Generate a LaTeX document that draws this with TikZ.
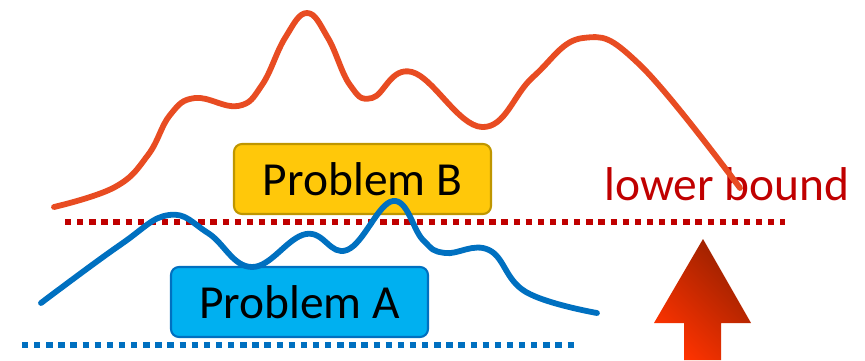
\documentclass[tikz,border=0pt]{standalone}
\usepackage{fontspec}
\setmainfont{Carlito}
\definecolor{curveo}{RGB}{232,76,34}
\definecolor{curveb}{RGB}{0,112,192}
\definecolor{boundr}{RGB}{192,0,0}
\definecolor{boxyel}{RGB}{255,200,10}
\definecolor{boxyeld}{RGB}{191,150,0}
\definecolor{boxcyan}{RGB}{0,176,240}
\definecolor{arrlo}{RGB}{255,51,0}
\definecolor{arrhi}{RGB}{150,32,0}

\begin{document}
\begin{tikzpicture}[x=0.02cm,y=-0.02cm,font=\fontsize{27}{32}\selectfont,
  box/.style={draw,line width=1.2pt,rounded corners=4.5pt,minimum width=5.14cm,minimum height=1.4cm,inner sep=0pt},
  crv/.style={line width=3.3pt,line cap=round,line join=round},
  dots/.style={line width=3.1pt,dash pattern=on 3.6pt off 3.3pt}]
\useasboundingbox (0,0) rectangle (865,360);
\coordinate (b1) at (65,222); \coordinate (b2) at (785,222);
\coordinate (a1) at (22,345); \coordinate (a2) at (578,345);
\draw[dots,boundr] (b1)--(b2);
\draw[dots,curveb] (a1)--(a2);
\node[box,fill=boxyel,draw=boxyeld] (pb) at (362.5,179) {Problem B};
\node[box,fill=boxcyan,draw=curveb] (pa) at (299.5,302) {Problem A};
\node[anchor=base west,inner sep=0pt,text=boundr] (lb) at (604,200) {lower bound};
\draw[crv,curveo] plot[smooth,tension=0.7] coordinates {(54,207) (115,187) (148,155) (170,115) (195,98) (238,106) (262,85) (285,38) (307,13) (328,38) (350,85) (372,98) (412,72) (482,127) (533,77) (583,38) (640,65) (740,188)};
\draw[crv,curveb] plot[smooth,tension=0.7] coordinates {(41,303) (120,245) (169,215) (208,233) (252,267) (306,234) (347,250) (393,201) (423,240) (445,253) (489,250) (526,292) (597,313)};
\shade[top color=arrhi,bottom color=arrlo,shading angle=-45] (703,239)--(751,323)--(721,323)--(721,360)--(684,360)--(684,323)--(654,323)--cycle;
\end{tikzpicture}
\end{document}
